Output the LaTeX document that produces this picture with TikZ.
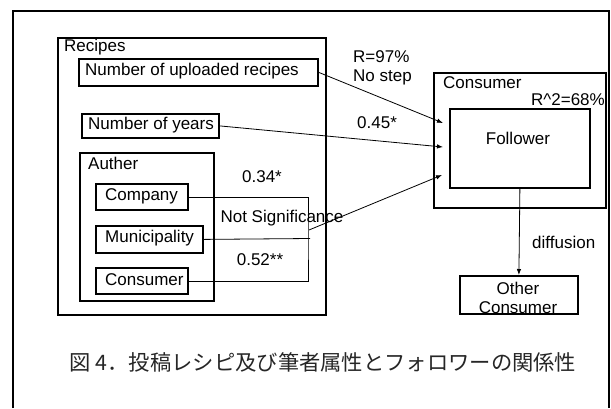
\documentclass[tikz,border=0pt]{standalone}
\usepackage{fontspec}
\setmainfont{Liberation Sans}
\newfontfamily\cjk{Noto Sans CJK JP}
\usetikzlibrary{arrows.meta}
\begin{document}
\begin{tikzpicture}[x=1pt,y=-1pt,
  box/.style={draw, line width=1.8pt, inner sep=0pt, anchor=north west},
  lbl/.style={font=\fontsize{17}{19}\selectfont, inner sep=0pt},
  conn/.style={line width=0.8pt},
  arr/.style={conn, -{Latex[length=6pt,width=4.5pt]}}]
\useasboundingbox (0,0) rectangle (611,408);
\draw[line width=2pt] (13,408) -- (13,11) -- (609,11) -- (609,408);

% boxes
\node[box, minimum width=268pt, minimum height=277pt] (recipes) at (57,37) {};
\node[box, minimum width=239pt, minimum height=27pt] (nup) at (78,58) {};
\node[box, minimum width=137pt, minimum height=24pt] (nyr) at (81,113) {};
\node[box, minimum width=134pt, minimum height=148pt] (auther) at (79,152) {};
\node[box, minimum width=92pt, minimum height=26pt] (company) at (95,183) {};
\node[box, minimum width=107pt, minimum height=27pt] (muni) at (95,225) {};
\node[box, minimum width=92pt, minimum height=26pt] (acons) at (95,267) {};
\node[box, minimum width=172pt, minimum height=135pt] (consumer) at (433,72) {};
\node[box, minimum width=140pt, minimum height=79pt] (follower) at (449,108) {};
\node[box, minimum width=118pt, minimum height=38pt] (other) at (459,275) {};

% texts
\node[lbl, anchor=west] (tRecipes) at (64,47) {Recipes};
\node[lbl, anchor=west] (tNup) at (85,71.5) {Number of uploaded recipes};
\node[lbl, anchor=west] (tNyr) at (88,125) {Number of years};
\node[lbl, anchor=west] (tAuther) at (88,163) {Auther};
\node[lbl, anchor=west] (tCompany) at (105,196) {Company};
\node[lbl, anchor=west] (tMuni) at (105,238.5) {Municipality};
\node[lbl, anchor=west] (tAcons) at (105,280) {Consumer};
\node[lbl, anchor=west] (tConsumer) at (443,83) {Consumer};
\node[lbl, anchor=east] (tR2) at (605,100) {R\textasciicircum 2=68\%};
\node[lbl] (tFollower) at (518,138) {Follower};
\node[lbl] (tOther) at (518,288) {Other};
\node[lbl] (tOcons) at (518,308) {Consumer};

\node[lbl, anchor=west] (tR97) at (353,57) {R=97\%};
\node[lbl, anchor=west] (tNostep) at (353,77) {No step};
\node[lbl, anchor=west] (t045) at (357,123) {0.45*};
\node[lbl] (t034) at (262,177) {0.34*};
\node[lbl] (tNS) at (282,218) {Not Significance};
\node[lbl] (t052) at (260,260) {0.52**};
\node[lbl, anchor=west] (tDiff) at (532,242) {diffusion};

% connectors
\coordinate (a1) at (443,123);
\coordinate (a2) at (443,147);
\coordinate (a3) at (442,175);
\coordinate (jm) at (308,238.5);
\coordinate (me) at (310,238.5);
\coordinate (ns) at (309,230);

\draw[arr] (nup.east) -- (a1);
\draw[arr] (nyr.east) -- (a2);
\draw[conn] (company.east) -| (jm) |- (acons.east);
\draw[conn] (muni.east) -- (me);
\draw[arr] (ns) -- (a3);
\draw[arr] (follower.south) -- (other.north);

% caption
\node[font=\cjk\fontsize{21.3}{25}\selectfont, inner sep=0pt, text=black!85] (caption) at (323,362) {図 4．投稿レシピ及び筆者属性とフォロワーの関係性};
\end{tikzpicture}
\end{document}
